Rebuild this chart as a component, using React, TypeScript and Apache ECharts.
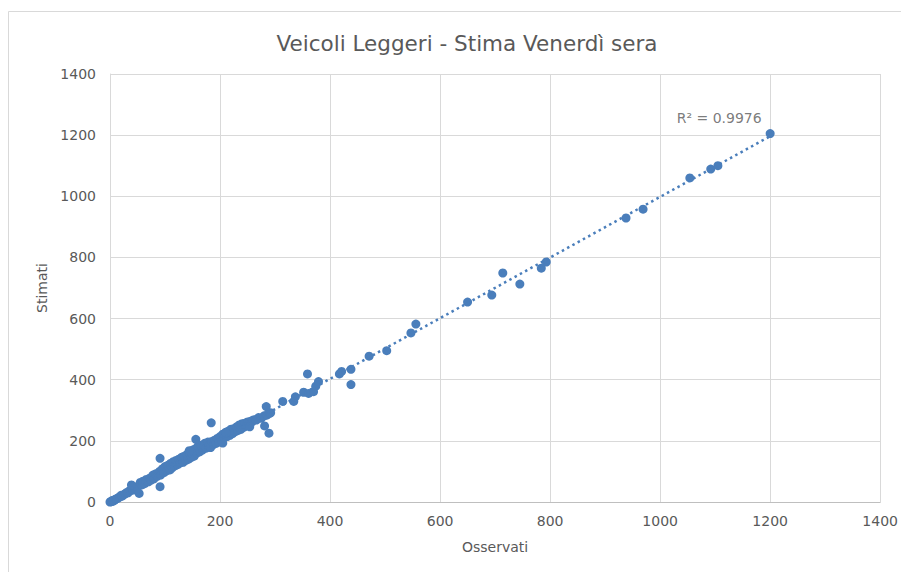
import React, { useEffect, useRef } from "react";
import * as echarts from "echarts";

const TITLE = "Veicoli Leggeri - Stima Venerdì sera";
const X_NAME = "Osservati";
const Y_NAME = "Stimati";
const R2_LABEL = "R² = 0.9976";

// Osservati (x) values
const observed: number[] = [
  0, 2, 3, 5, 6, 8, 10, 12, 14, 16, 18, 20, 22, 25, 28, 30, 33, 35, 38, 40, 42, 45, 48, 50,
  39, 53, 91, 91,
  55, 58, 60, 63, 66, 70, 72, 75, 78, 80, 83, 86, 90, 92, 95, 98, 100, 103, 105, 108, 110,
  113, 115, 118, 120, 123, 125, 128, 130, 133, 135, 138, 140, 143, 145, 148, 150, 153, 155,
  158, 160, 163, 165, 168, 170, 172, 175, 178, 180, 183, 185, 188, 190, 193, 195, 198, 200,
  203, 205, 208, 210, 213, 215, 218, 220, 223, 225, 228, 230, 233, 235, 238, 240, 243, 245,
  248, 250, 253, 255, 258, 260, 265, 270, 275, 280, 285, 290, 292,
  109, 144, 156, 184, 205, 211, 284, 289, 281, 266, 254,
  314, 334, 337, 352, 359, 361, 370, 374, 379, 417, 421, 438, 438, 471, 503,
  547, 556, 650, 694, 714, 745, 784, 793, 938, 969, 1054, 1092, 1105, 1200,
];

// Stimati (y) values
const estimated: number[] = [
  0, 1, 4, 2, 6, 5, 9, 11, 12, 15, 17, 22, 19, 24, 27, 31, 30, 36, 38, 42, 39, 46, 50, 48,
  56, 28, 50, 143,
  64, 56, 68, 60, 74, 66, 78, 72, 88, 76, 92, 84, 100, 88, 108, 96, 116, 102, 120, 110, 126,
  112, 132, 118, 136, 122, 140, 128, 146, 130, 150, 136, 156, 140, 160, 146, 170, 150, 174,
  160, 182, 164, 186, 170, 180, 192, 176, 196, 184, 178, 198, 188, 202, 192, 208, 196, 214,
  200, 222, 212, 228, 214, 232, 218, 238, 224, 240, 230, 246, 234, 252, 238, 256, 244, 258,
  252, 262, 256, 264, 262, 268, 270, 276, 274, 282, 284, 290, 292,
  105, 168, 205, 259, 193, 226, 312, 225, 249, 268, 246,
  329, 329, 344, 359, 419, 355, 361, 379, 394, 419, 427, 384, 434, 477, 495,
  553, 582, 654, 677, 749, 713, 765, 785, 929, 958, 1060, 1089, 1100, 1205,
];

const X_TICKS_MAX = 1400;
const Y_TICKS_MAX = 1400;
const TICK_STEP = 200;

export default function App() {
  const ref = useRef<HTMLDivElement>(null);

  useEffect(() => {
    if (!ref.current) return;
    const chart = echarts.init(ref.current, undefined, { renderer: "svg" });

    const n = Math.min(observed.length, estimated.length);
    const pts = observed.slice(0, n).map((x, i) => [x, estimated[i]]);
    const mx = pts.reduce((a, p) => a + p[0], 0) / n;
    const my = pts.reduce((a, p) => a + p[1], 0) / n;
    let sxy = 0,
      sxx = 0;
    for (const p of pts) {
      sxy += (p[0] - mx) * (p[1] - my);
      sxx += (p[0] - mx) ** 2;
    }
    const slope = sxy / sxx;
    const intercept = my - slope * mx;
    const xMin = Math.min(...observed);
    const xMax = Math.max(...observed);

    const font = "'DejaVu Sans', sans-serif";
    const gray = "#595959";
    const blue = "#4a7ebb";
    const plain = (v: number) => String(v);

    chart.setOption({
      animation: false,
      backgroundColor: "#ffffff",
      title: {
        text: TITLE,
        left: 462,
        top: 27,
        textAlign: "center",
        textStyle: { fontFamily: font, fontSize: 21.5, fontWeight: "normal", color: gray },
      },
      graphic: [
        {
          type: "rect",
          shape: { x: 8.5, y: 11.5, width: 1000, height: 1000 },
          style: { fill: "none", stroke: "#d9d9d9", lineWidth: 1 },
          silent: true,
          z: -1,
        },
      ],
      grid: { left: 110, right: 18, top: 74, bottom: 70 },
      xAxis: {
        type: "value",
        min: 0,
        max: X_TICKS_MAX,
        interval: TICK_STEP,
        name: X_NAME,
        nameLocation: "middle",
        nameGap: 38,
        nameTextStyle: { fontFamily: font, fontSize: 14, color: gray },
        axisLine: { show: true, lineStyle: { color: "#bfbfbf", width: 1 } },
        axisTick: { show: false },
        axisLabel: { fontFamily: font, fontSize: 14, color: gray, margin: 12, formatter: plain },
        splitLine: { show: true, lineStyle: { color: "#d9d9d9", width: 1 } },
      },
      yAxis: {
        type: "value",
        min: 0,
        max: Y_TICKS_MAX,
        interval: TICK_STEP,
        name: Y_NAME,
        nameLocation: "middle",
        nameGap: 60,
        nameTextStyle: { fontFamily: font, fontSize: 14, color: gray },
        axisLine: { show: true, lineStyle: { color: "#d9d9d9", width: 1 } },
        axisTick: { show: false },
        axisLabel: { fontFamily: font, fontSize: 14, color: gray, margin: 14, formatter: plain },
        splitLine: { show: true, lineStyle: { color: "#d9d9d9", width: 1 } },
      },
      series: [
        {
          type: "line",
          data: [
            [xMin, slope * xMin + intercept],
            [xMax, slope * xMax + intercept],
          ],
          showSymbol: false,
          symbol: "none",
          lineStyle: { color: blue, width: 2.5, type: [2.5, 3.5] },
          z: 3,
          silent: true,
        },
        {
          type: "scatter",
          data: pts,
          symbolSize: 9,
          itemStyle: { color: blue, opacity: 1 },
          z: 2,
        },
        {
          type: "scatter",
          data: [[xMax, slope * xMax + intercept]],
          symbolSize: 1,
          itemStyle: { color: "rgba(0,0,0,0)" },
          silent: true,
          z: 4,
          label: {
            show: true,
            formatter: R2_LABEL,
            position: "top",
            offset: [-51, -6],
            fontFamily: font,
            fontSize: 14,
            color: gray,
          },
        },
      ],
    });

    return () => chart.dispose();
  }, []);

  return (
    <div
      ref={ref}
      style={{ position: "absolute", left: 0, top: 0, width: 901, height: 572 }}
    />
  );
}
